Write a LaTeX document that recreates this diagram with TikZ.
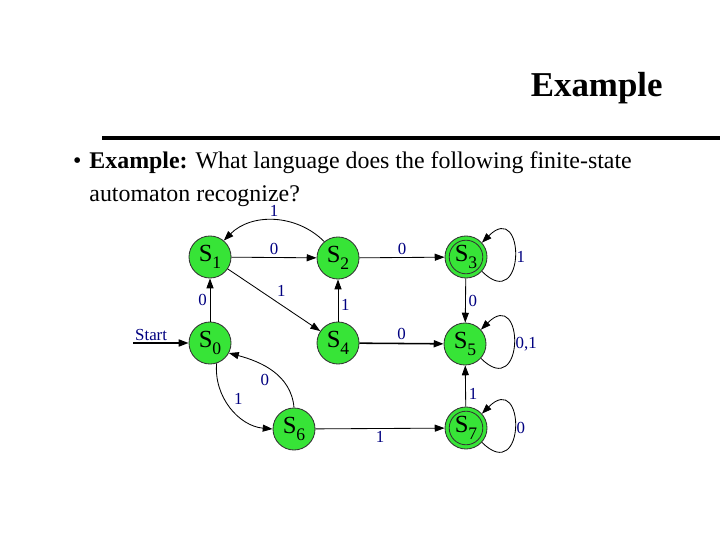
\documentclass[tikz,border=0pt]{standalone}
\usepackage{fontspec}
\setmainfont{Liberation Serif}
\usetikzlibrary{arrows.meta}
\definecolor{stgreen}{RGB}{55,228,55}
\definecolor{lblblue}{RGB}{0,0,128}
\newcommand{\stname}[1]{S\raisebox{-5pt}{\fontsize{12.5}{12.5}\selectfont #1}}
\begin{document}
\begin{tikzpicture}[x=0.025cm, y=0.025cm, line width=0.6pt,
  every node/.style={font=\fontsize{12}{12}\selectfont},
  state/.style={circle, draw=black!80, fill=stgreen, minimum size=1.05cm, inner sep=0pt, font=\fontsize{17.5}{17.5}\selectfont},
  accept/.style={state, path picture={\draw[black!80] (path picture bounding box.center) circle (0.42cm);}},
  lbl/.style={text=lblblue, inner sep=2pt},
  >={Triangle[length=7pt, width=5pt]}]
  \useasboundingbox (0,0) rectangle (720,540);
  % heading and question
  \node[anchor=base east, inner sep=0pt, font=\fontsize{24.8}{24.8}\selectfont\bfseries] (title) at (663,443) {Example};
  \draw[line width=2.8pt] (102,402) -- (720,402);
  \node[anchor=base west, font=\fontsize{17}{17}\selectfont] (bullet) at (68,371) {\textbullet};
  \node[anchor=base west, font=\fontsize{17}{17}\selectfont, inner sep=0pt] (q1) at (89,371) {\textbf{Example:} What language does the following finite-state};
  \node[anchor=base west, font=\fontsize{17}{17}\selectfont, inner sep=0pt] (q2) at (89,338) {automaton recognize?};
  % states
  \foreach \n/\x/\y in {1/210/283, 2/338/282, 0/210/197, 4/338/197, 5/465/196, 6/294/111}
    \node[state] (S\n) at (\x,\y) {\stname{\n}};
  \foreach \n/\x/\y in {3/466/283, 7/466/112}
    \node[accept] (S\n) at (\x,\y) {\stname{\n}};
  % start arrow
  \coordinate (start) at (133,197);
  \draw[->, line width=1.1pt] (start) -- node[lbl, pos=0, anchor=south west, inner sep=1pt] {Start} (S0);
  % straight transitions
  \foreach \a/\b/\t/\p/\q in {1/2/0/above/0.5, 2/3/0/above/0.5, 1/4/1/above right/0.5, 4/2/1/right/0.4,
      0/1/0/left/0.5, 3/5/0/right/0.5, 7/5/1/right/0.3, 6/7/1/below/0.5}
    \draw[->] (S\a) -- node[lbl, \p, pos=\q] {\t} (S\b);
  \draw[->, line width=1.1pt] (S4) -- node[lbl, above] {0} (S5);
  % curved transitions
  \draw[->] (S2.130) to[out=135, in=45] node[lbl, above] {1} (S1.50);
  \draw[->] (S0.-72) to[out=-95, in=175] node[lbl, above right] {1} (S6.west);
  \draw[->] (S6.north) to[out=95, in=-15] node[lbl, below left] {0} (S0.-28);
  % self loops
  \foreach \n/\t in {3/1, 5/{0,1}, 7/0}
    \draw[->] (S\n.-42) .. controls +(-45:62) and +(45:62) .. (S\n.42) node[lbl, pos=0.5, anchor=west, inner sep=1pt] {\t};
\end{tikzpicture}
\end{document}
